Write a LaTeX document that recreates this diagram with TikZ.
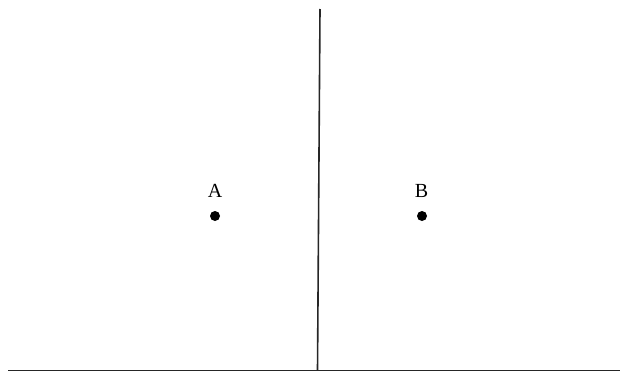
\documentclass[tikz,border=0pt]{standalone}
\usepackage{fontspec}
\setmainfont{Liberation Serif}
\begin{document}
\begin{tikzpicture}[x=1pt,y=-1pt,
  ln/.style={line width=1.6pt, black!85},
  pt/.style={circle, fill=black, inner sep=0pt, minimum size=10pt},
  lbl/.style={font=\fontsize{20}{22}\selectfont, inner sep=0pt}]
\useasboundingbox (0,0) rectangle (620,372);
\coordinate (vt) at (320,9);
\coordinate (vb) at (317.5,370.5);
\coordinate (hl) at (8,370.5);
\coordinate (hr) at (620,370.5);
\draw[ln] (vt) -- (vb);
\draw[ln] (hl) -- (hr);
\node[pt] (a) at (215,216) {};
\node[pt] (b) at (422,216) {};
\node[lbl] (la) at (215,190.5) {A};
\node[lbl] (lb) at (421.5,190.5) {B};
\end{tikzpicture}
\end{document}
